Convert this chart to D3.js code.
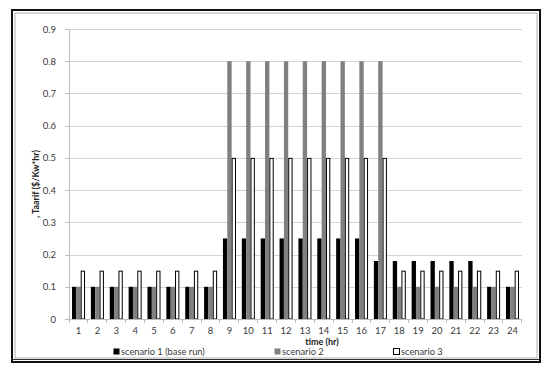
<!DOCTYPE html>
<html lang="en">
<head>
<meta charset="utf-8">
<title>Tariff chart</title>
<script src="https://cdn.jsdelivr.net/npm/d3@7/dist/d3.min.js"></script>
<style>
  body { margin: 0; background: #fff; }
  .axis text { font-family: Lato, sans-serif; font-size: 9.5px; }
  .axis path, .axis line { stroke: #bdbdbd; shape-rendering: crispEdges; }
  .grid line { stroke: #d4d4d4; shape-rendering: crispEdges; }
</style>
</head>
<body>
<script>
// data
var hours = d3.range(1, 25).map(String);
var scenario1 = [0.1,0.1,0.1,0.1,0.1,0.1,0.1,0.1,0.25,0.25,0.25,0.25,0.25,0.25,0.25,0.25,0.18,0.18,0.18,0.18,0.18,0.18,0.1,0.1];
var scenario2 = [0.1,0.1,0.1,0.1,0.1,0.1,0.1,0.1,0.8,0.8,0.8,0.8,0.8,0.8,0.8,0.8,0.8,0.1,0.1,0.1,0.1,0.1,0.1,0.1];
var scenario3 = [0.15,0.15,0.15,0.15,0.15,0.15,0.15,0.15,0.5,0.5,0.5,0.5,0.5,0.5,0.5,0.5,0.5,0.15,0.15,0.15,0.15,0.15,0.15,0.15];
var seriesNames = ["scenario 1 (base run)", "scenario 2", "scenario 3"];
var yTicks = [0,0.1,0.2,0.3,0.4,0.5,0.6,0.7,0.8,0.9];

var w = 550, h = 374;
var pLeft = 69, pRight = 522, pTop = 29, pBottom = 319;

var svg = d3.select("body").append("svg").attr("width", w).attr("height", h);

// frame
svg.append("rect").attr("x", 12).attr("y", 10).attr("width", 528).attr("height", 352)
  .attr("fill", "#fff").attr("stroke", "#111").attr("stroke-width", 2);
svg.append("rect").attr("x", 15).attr("y", 13).attr("width", 522).attr("height", 345)
  .attr("fill", "none").attr("stroke", "#b0b0b0").attr("stroke-width", 1);
svg.append("line").attr("x1", 13).attr("x2", 539).attr("y1", 359.5).attr("y2", 359.5)
  .attr("stroke", "#333").attr("stroke-width", 1);

var x = d3.scaleBand().domain(hours).range([pLeft, pRight]).paddingInner(0.31).paddingOuter(0.16);
var sub = d3.scaleBand().domain([0,1,2]).range([0, x.bandwidth()]);
var y = d3.scaleLinear().domain([0, 0.9]).range([pBottom, pTop]);

// gridlines
svg.append("g").attr("class", "grid")
  .selectAll("line").data(yTicks.slice(1)).enter().append("line")
  .attr("x1", pLeft).attr("x2", pRight)
  .attr("y1", function(d) { return Math.round(y(d)) + 0.5; })
  .attr("y2", function(d) { return Math.round(y(d)) + 0.5; });

// bars
var data = [scenario1, scenario2, scenario3];
var fills = ["#000", "#808080", "#fff"];
data.forEach(function(vals, s) {
  svg.append("g").selectAll("rect").data(vals).enter().append("rect")
    .attr("x", function(d, i) { return x(hours[i]) + sub(s) + (s == 2 ? 0.5 : 0); })
    .attr("y", function(d) { return y(d) + (s == 2 ? 0.5 : 0); })
    .attr("width", sub.bandwidth() - (s == 2 ? 1 : 0))
    .attr("height", function(d) { return y(0) - y(d) - (s == 2 ? 0.5 : 0); })
    .attr("fill", fills[s])
    .attr("stroke", s == 2 ? "#000" : "none")
    .attr("stroke-width", 1);
});

// y axis
svg.append("g").attr("class", "axis")
  .attr("transform", "translate(" + pLeft + ",0)")
  .call(d3.axisLeft(y).tickValues(yTicks).tickFormat(d3.format("")).tickSize(4).tickPadding(9))
  .call(function(g) {
    g.select(".domain").attr("d", "M0," + pTop + "V" + pBottom);
    g.selectAll("text").attr("fill", "#3a3a3a");
  });

// x axis
var xa = svg.append("g").attr("class", "axis")
  .attr("transform", "translate(0," + pBottom + ")")
  .call(d3.axisBottom(x).tickSize(0).tickPadding(8));
xa.select(".domain").attr("d", "M" + pLeft + ",0.5H" + pRight);
xa.selectAll("text").attr("fill", "#3a3a3a");
var step = x.step();
xa.selectAll(".sep").data(d3.range(25)).enter().append("line")
  .attr("x1", function(d) { return pLeft + d * step; })
  .attr("x2", function(d) { return pLeft + d * step; })
  .attr("y1", 0).attr("y2", 4).attr("stroke", "#bdbdbd");

// axis titles
svg.append("text").attr("x", 322).attr("y", 345).attr("text-anchor", "middle")
  .style("font-family", "Lato, sans-serif").style("font-size", "9px").style("font-weight", "bold")
  .attr("fill", "#222").text("time (hr)");
svg.append("text").attr("transform", "translate(39,184) rotate(-90)").attr("text-anchor", "middle")
  .style("font-family", "Lato, sans-serif").style("font-size", "9px").style("font-weight", "bold")
  .attr("fill", "#222").text(", Taarif ($/Kw*hr)");

// legend
var legX = [113, 274, 393];
var lg = svg.append("g").selectAll("g").data(seriesNames).enter().append("g")
  .attr("transform", function(d, i) { return "translate(" + legX[i] + ",351)"; });
lg.append("rect").attr("x", 0.5).attr("y", -2.5).attr("width", 6).attr("height", 6)
  .attr("fill", function(d, i) { return fills[i]; })
  .attr("stroke", function(d, i) { return i == 2 ? "#000" : "none"; });
lg.append("text").attr("x", 8).attr("y", 3.5)
  .style("font-family", "Lato, sans-serif").style("font-size", "9.3px").attr("fill", "#3a3a3a")
  .text(function(d) { return d; });
</script>
</body>
</html>
